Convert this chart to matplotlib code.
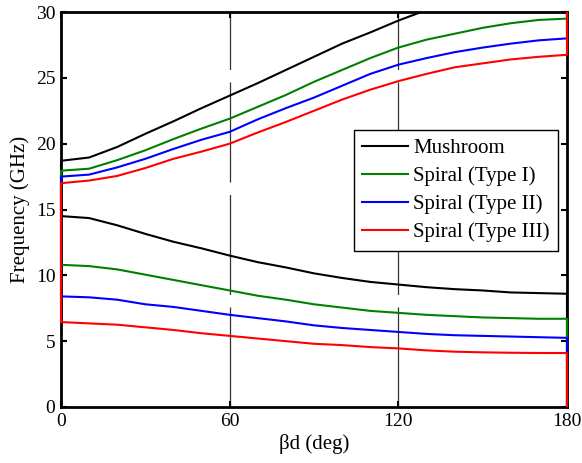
"""Dispersion diagram of the mushroom and spiral unit cells"""
import matplotlib
matplotlib.use('Agg')
import matplotlib.pyplot as plt
from matplotlib.patches import Rectangle
import numpy as np

plt.rcParams['font.family'] = ['Liberation Serif', 'DejaVu Serif']

# phase along the unit cell (deg)
beta_d = [0, 10, 20, 30, 40, 50, 60, 70, 80, 90,
          100, 110, 120, 130, 140, 150, 160, 170, 180]

# first (lower) band, GHz
mushroom_low = [14.5, 14.35, 13.8, 13.15, 12.55, 12.05, 11.5, 11.0, 10.6, 10.15,
                9.8, 9.5, 9.3, 9.1, 8.95, 8.85, 8.7, 8.65, 8.6]
type1_low = [10.8, 10.7, 10.45, 10.05, 9.65, 9.25, 8.85, 8.45, 8.15, 7.8,
             7.55, 7.3, 7.15, 7.0, 6.9, 6.8, 6.75, 6.7, 6.7]
type2_low = [8.4, 8.33, 8.15, 7.8, 7.6, 7.3, 7.0, 6.75, 6.5, 6.2,
             6.0, 5.85, 5.7, 5.55, 5.45, 5.4, 5.35, 5.3, 5.25]
type3_low = [6.45, 6.35, 6.25, 6.05, 5.85, 5.6, 5.4, 5.2, 5.0, 4.8,
             4.7, 4.55, 4.45, 4.3, 4.2, 4.15, 4.12, 4.1, 4.1]

# second (upper) band, GHz
mushroom_up = [18.7, 18.95, 19.75, 20.75, 21.7, 22.7, 23.65, 24.6, 25.6, 26.6,
               27.6, 28.45, 29.35, 30.15, 30.9, 31.6, 32.2, 32.6, 32.8]
type1_up = [17.95, 18.1, 18.75, 19.5, 20.35, 21.15, 21.9, 22.8, 23.7, 24.7,
            25.6, 26.5, 27.3, 27.9, 28.35, 28.8, 29.15, 29.4, 29.5]
type2_up = [17.5, 17.65, 18.2, 18.85, 19.6, 20.3, 20.9, 21.85, 22.7, 23.5,
            24.4, 25.3, 26.0, 26.5, 26.95, 27.3, 27.6, 27.85, 28.0]
type3_up = [17.0, 17.2, 17.55, 18.15, 18.85, 19.4, 20.0, 20.85, 21.65, 22.5,
            23.35, 24.1, 24.75, 25.3, 25.8, 26.1, 26.4, 26.6, 26.75]

labels = ['Mushroom', 'Spiral (Type I)', 'Spiral (Type II)', 'Spiral (Type III)']
colors = ['black', 'green', 'blue', 'red']
f_min, f_max = 0, 30
x_ticks = [0, 60, 120, 180]
y_ticks = [0, 5, 10, 15, 20, 25, 30]
guide_lines = [60, 120]


def band_path(x, low, up, f_lo, f_hi):
    """Join both bands into one trace, closed by verticals at the zone edges"""
    x = np.asarray(x, dtype=float)
    xs = np.concatenate([[x[-1]], x[::-1], x, [x[-1]]])
    ys = np.concatenate([[f_lo], np.asarray(low)[::-1], up, [f_hi + 3]])
    return xs, ys


fig = plt.figure(figsize=(5.82, 4.63), dpi=100)
ax = fig.add_axes([0.1048, 0.121, 0.8694, 0.853])

for xg in guide_lines:
    ax.axvline(xg, color='#333333', lw=0.9, ls=(0, (80, 10)), zorder=1)

clip = Rectangle((-20, f_min), 220, f_max - f_min, transform=ax.transData)
bands = [(mushroom_low, mushroom_up), (type1_low, type1_up),
         (type2_low, type2_up), (type3_low, type3_up)]
for (low, up), color, label in zip(bands, colors, labels):
    xs, ys = band_path(beta_d, low, up, f_min, f_max)
    line, = ax.plot(xs, ys, color=color, lw=1.5, label=label, zorder=3)
    line.set_clip_path(clip)

ax.set_xlim(0, 180)
ax.set_ylim(f_min, f_max)
ax.set_xticks(x_ticks)
ax.set_yticks(y_ticks)
ax.tick_params(direction='in', length=4, width=1.5, labelsize=14,
               top=True, right=True, pad=4)
for spine in ax.spines.values():
    spine.set_linewidth(2)

ax.set_xlabel('βd (deg)', fontsize=15, labelpad=3)
ax.set_ylabel('Frequency (GHz)', fontsize=15, labelpad=4)

leg = ax.legend(loc='upper right', bbox_to_anchor=(0.982, 0.701),
                borderaxespad=0, fontsize=15, frameon=True, fancybox=False,
                handlelength=2.2, handletextpad=0.25, labelspacing=0.4,
                borderpad=0.4)
leg.get_frame().set_edgecolor('black')
leg.get_frame().set_linewidth(1.0)
leg.get_frame().set_alpha(1)
leg.set_zorder(5)

fig.savefig('out.png', dpi=100)
